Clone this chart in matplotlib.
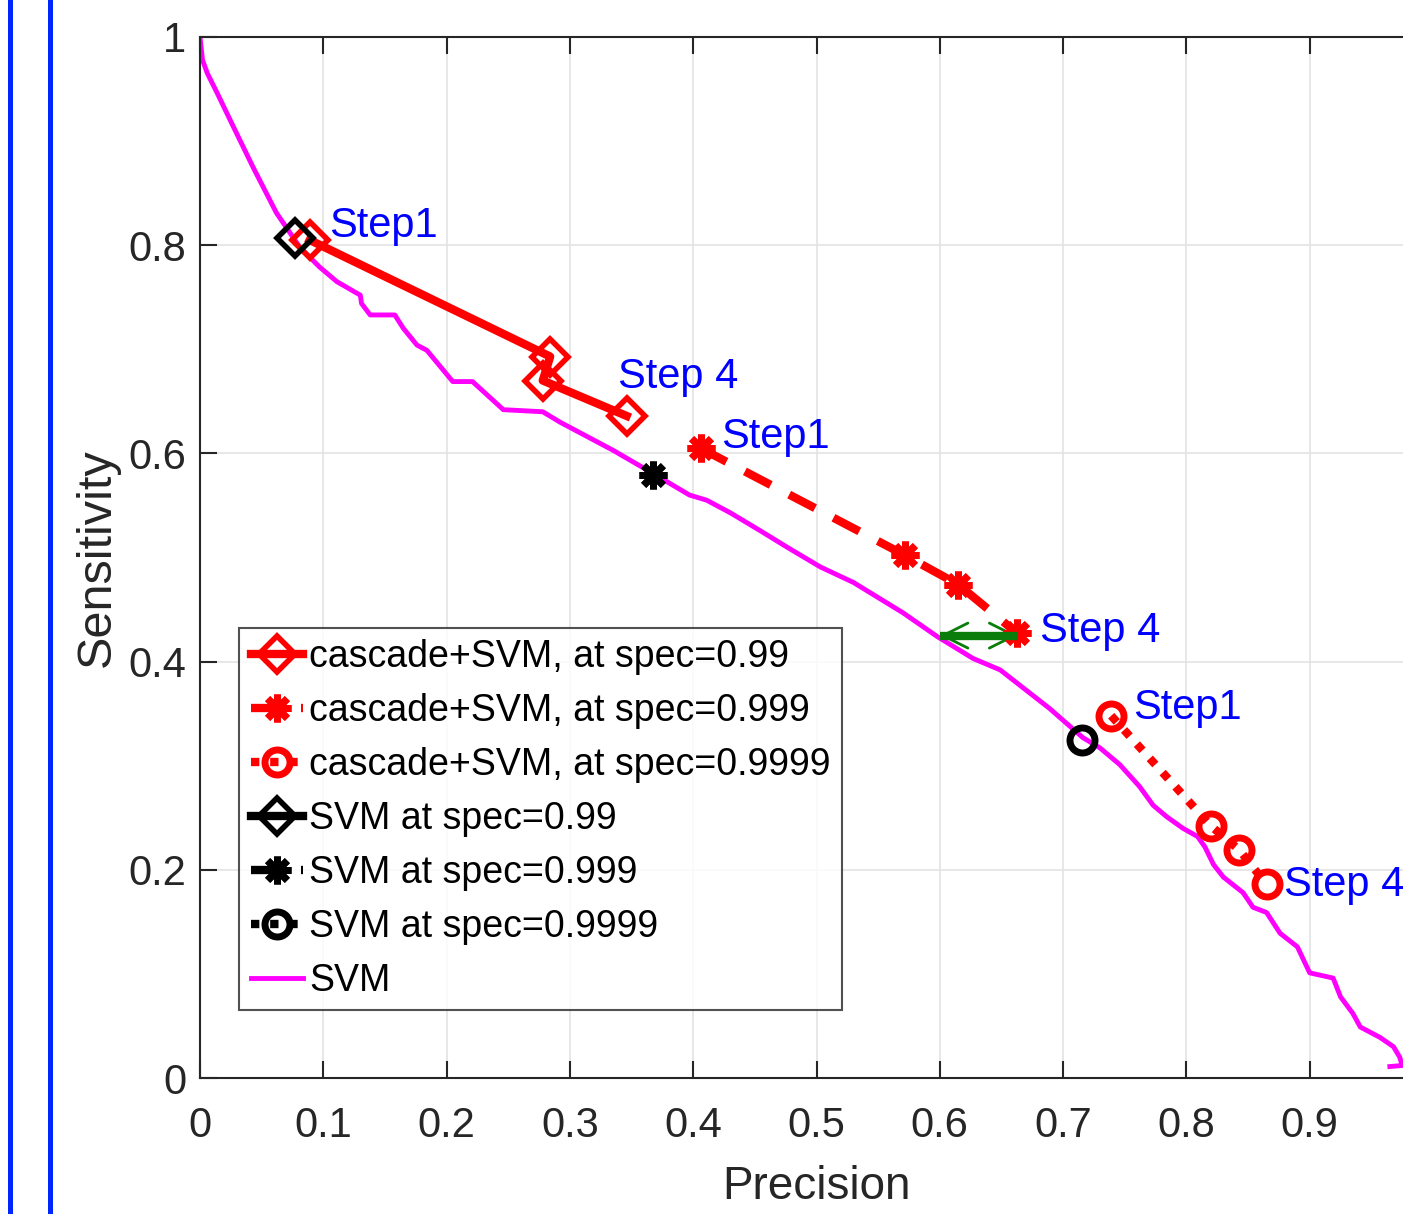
import matplotlib.pyplot as plt
from matplotlib.lines import Line2D
from matplotlib.patches import FancyArrowPatch
from matplotlib.ticker import FormatStrFormatter

# SVM precision/sensitivity curve
svm_prec = [0.000, 0.002, 0.006, 0.014, 0.027, 0.043, 0.062, 0.081, 0.097, 0.111,
            0.130, 0.131, 0.138, 0.158, 0.165, 0.176, 0.184, 0.205, 0.221, 0.246,
            0.278, 0.292, 0.335, 0.367, 0.397, 0.411, 0.430, 0.454, 0.476, 0.503,
            0.530, 0.570, 0.598, 0.627, 0.649, 0.689, 0.716, 0.730, 0.746, 0.762,
            0.773, 0.784, 0.797, 0.809, 0.815, 0.822, 0.830, 0.846, 0.854, 0.865,
            0.876, 0.890, 0.900, 0.919, 0.925, 0.935, 0.941, 0.957, 0.968, 0.973,
            0.975, 0.965]
svm_sens = [1.000, 0.978, 0.965, 0.946, 0.914, 0.875, 0.831, 0.798, 0.779, 0.765,
            0.752, 0.744, 0.733, 0.733, 0.720, 0.704, 0.699, 0.669, 0.669, 0.642,
            0.640, 0.630, 0.603, 0.581, 0.560, 0.555, 0.543, 0.526, 0.510, 0.491,
            0.476, 0.447, 0.424, 0.403, 0.392, 0.355, 0.327, 0.317, 0.301, 0.280,
            0.262, 0.251, 0.240, 0.232, 0.222, 0.205, 0.193, 0.178, 0.164, 0.159,
            0.139, 0.126, 0.101, 0.096, 0.078, 0.062, 0.049, 0.039, 0.030, 0.020,
            0.012, 0.011]

# cascade+SVM, steps 1..4
casc99_prec = [0.089, 0.284, 0.278, 0.346]
casc99_sens = [0.805, 0.693, 0.670, 0.636]
casc999_prec = [0.406, 0.572, 0.615, 0.663]
casc999_sens = [0.605, 0.502, 0.474, 0.427]
casc9999_prec = [0.739, 0.820, 0.843, 0.865]
casc9999_sens = [0.348, 0.242, 0.219, 0.186]

# SVM operating points
svm99 = (0.077, 0.807)
svm999 = (0.367, 0.579)
svm9999 = (0.715, 0.325)

# step labels (x, y, text)
step_labels = [(0.105, 0.818, "Step1"), (0.339, 0.673, "Step 4"),
               (0.423, 0.616, "Step1"), (0.681, 0.429, "Step 4"),
               (0.757, 0.355, "Step1"), (0.879, 0.185, "Step 4")]

# green gap arrow
gap_x = (0.600, 0.663)
gap_y = 0.425

plt.rcParams['font.family'] = ['Liberation Sans', 'DejaVu Sans']

fig = plt.figure(figsize=(14.03, 12.14), dpi=100)
ax = fig.add_axes([200 / 1403, 136 / 1214, 1233 / 1403, 1041 / 1214])

dash = (0, (3.5, 2.5))
dot = (0, (1, 1.3))

ax.plot(casc99_prec, casc99_sens, color='red', lw=6, marker='D', ms=18, mew=4,
        mfc='none', label='cascade+SVM, at spec=0.99')
ax.plot(casc999_prec, casc999_sens, color='red', lw=6, ls=dash, marker=(8, 2, 0),
        ms=20, mew=5, label='cascade+SVM, at spec=0.999')
ax.plot(casc9999_prec, casc9999_sens, color='red', lw=6, ls=dot, marker='o', ms=18,
        mew=5, mfc='none', label='cascade+SVM, at spec=0.9999')
ax.plot([svm99[0]], [svm99[1]], color='black', lw=6, marker='D', ms=18, mew=4,
        mfc='none', label='SVM at spec=0.99')
ax.plot([svm999[0]], [svm999[1]], color='black', lw=6, ls=dash, marker=(8, 2, 0),
        ms=20, mew=5, label='SVM at spec=0.999')
ax.plot([svm9999[0]], [svm9999[1]], color='black', lw=6, ls=dot, marker='o', ms=18,
        mew=5, mfc='none', label='SVM at spec=0.9999')
ax.plot(svm_prec, svm_sens, color='magenta', lw=3.5, label='SVM', zorder=1.9)

# gap arrow: thick shaft, thin open heads
ax.plot(gap_x, [gap_y, gap_y], color='#0a7d0a', lw=6, solid_capstyle='butt')
ax.add_patch(FancyArrowPatch((gap_x[0], gap_y), (gap_x[1], gap_y),
                             arrowstyle='<->,head_length=0.9,head_width=0.45',
                             mutation_scale=20, lw=2, color='#0a7d0a',
                             shrinkA=0, shrinkB=0))

for x, y, s in step_labels:
    ax.text(x, y, s, color='blue', fontsize=30, va='center', ha='left')

ax.set_xlim(0, 1)
ax.set_ylim(0, 1)
ax.set_xticks([i / 10 for i in range(10)])
ax.set_yticks([i / 5 for i in range(6)])
ax.xaxis.set_major_formatter(FormatStrFormatter('%g'))
ax.yaxis.set_major_formatter(FormatStrFormatter('%g'))
ax.tick_params(direction='in', length=12, width=1.5, labelsize=30,
               colors='#262626', top=True, right=True)
ax.tick_params(axis='x', pad=20)
ax.tick_params(axis='y', pad=10)
ax.grid(True, color='#e3e3e3', lw=1.2)
ax.set_axisbelow(True)
for sp in ax.spines.values():
    sp.set_color('#262626')
    sp.set_linewidth(1.5)

ax.set_xlabel('Precision', fontsize=33, color='#262626', labelpad=14)
ax.set_ylabel('Sensitivity', fontsize=35, color='#262626', labelpad=6)

leg = ax.legend(loc='lower left', bbox_to_anchor=(0.032, 0.065), fontsize=27,
                frameon=True, fancybox=False, edgecolor='#262626',
                borderpad=0.3, labelspacing=0.48, handlelength=1.4,
                handletextpad=0.15, borderaxespad=0)
leg.get_frame().set_linewidth(1.5)

# blue frame lines at the left edge of the cropped figure
for xp in (10, 50):
    fig.add_artist(Line2D([xp / 1403, xp / 1403], [0, 1], transform=fig.transFigure,
                          color='#0026ff', lw=3.6))

fig.savefig('out.png', dpi=100)
